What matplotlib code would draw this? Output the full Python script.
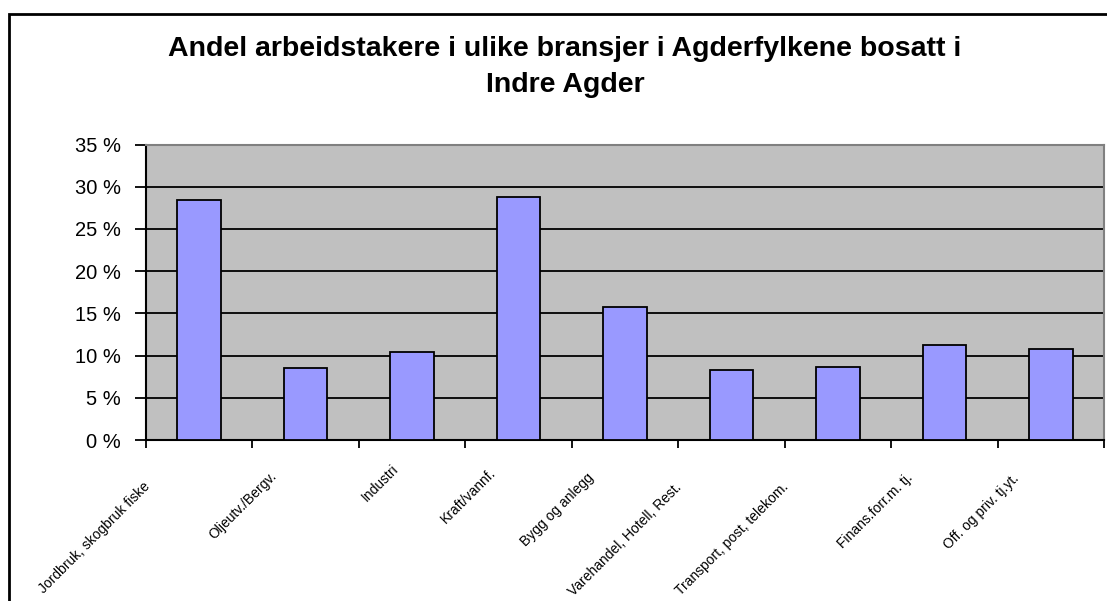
import numpy as np
import matplotlib
matplotlib.use('Agg')
import matplotlib.pyplot as plt
import matplotlib.transforms as mtransforms
from matplotlib.patches import Rectangle

# data
categories = [
    'Jordbruk, skogbruk fiske',
    'Oljeutv./Bergv.',
    'Industri',
    'Kraft/vannf.',
    'Bygg og anlegg',
    'Varehandel, Hotell, Rest.',
    'Transport, post, telekom.',
    'Finans.forr.m. tj.',
    'Off. og priv. tj.yt.',
]
shares = [28.4, 8.5, 10.4, 28.8, 15.8, 8.3, 8.7, 11.3, 10.8]
y_ticks = [0, 5, 10, 15, 20, 25, 30, 35]
title = 'Andel arbeidstakere i ulike bransjer i Agderfylkene bosatt i\nIndre Agder'

plt.rcParams['font.family'] = ['Liberation Sans', 'DejaVu Sans']

fig = plt.figure(figsize=(11.07, 6.01), dpi=100)
W, H = 1107, 601

# outer chart frame (cut off at right and bottom like the original)
fig.patches.append(Rectangle((9 / W, -0.1), 1.2, (H - 14) / H + 0.1,
                             transform=fig.transFigure, fill=False,
                             edgecolor='black', linewidth=2))

fig.text(565 / W, 1 - 67 / H, title, ha='center', va='center',
         fontsize=20.5, fontweight='bold', linespacing=1.45)

ax = fig.add_axes([146 / W, (H - 440) / H, (1104 - 146) / W, (440 - 144.5) / H])
ax.set_facecolor('#c0c0c0')

x = np.arange(len(categories))
ax.bar(x, shares, width=0.41, color='#9999ff', edgecolor='black',
       linewidth=1.3, zorder=3)

ax.set_xlim(-0.5, len(categories) - 0.5)
ax.set_ylim(0, 35)
ax.set_yticks(y_ticks)
ax.set_yticklabels([f'{v} %' for v in y_ticks], fontsize=14.5)
ax.yaxis.grid(True, color='black', linewidth=1.3)
ax.set_axisbelow(True)
ax.tick_params(axis='y', length=8, width=1.3, pad=10)

# ticks sit on the category boundaries, labels drawn separately
ax.set_xticks(np.arange(len(categories) + 1) - 0.5)
ax.set_xticklabels([])
ax.tick_params(axis='x', length=6, width=1.3)

ax.spines['left'].set_linewidth(1.5)
ax.spines['bottom'].set_linewidth(1.5)
ax.spines['top'].set_color('#808080')
ax.spines['right'].set_color('#808080')
ax.spines['top'].set_linewidth(1.5)
ax.spines['right'].set_linewidth(1.5)

base = mtransforms.blended_transform_factory(ax.transData, ax.transAxes)
labels = []
for i, name in enumerate(categories):
    t = ax.text(i, 0, name, transform=base, rotation=45, rotation_mode='anchor',
                ha='right', va='top', fontsize=10, clip_on=False)
    labels.append(t)

# the original shifts longer labels further down-left
fig.canvas.draw()
renderer = fig.canvas.get_renderer()
for t in labels:
    bb = t.get_window_extent(renderer)
    lx = max(bb.width - 10, 0)
    dx = -0.47 * lx - 6
    dy = -(14 + 0.24 * lx)
    t.set_transform(base + mtransforms.ScaledTranslation(dx / 100, dy / 100,
                                                         fig.dpi_scale_trans))

fig.savefig('out.png', dpi=100, facecolor='white')
